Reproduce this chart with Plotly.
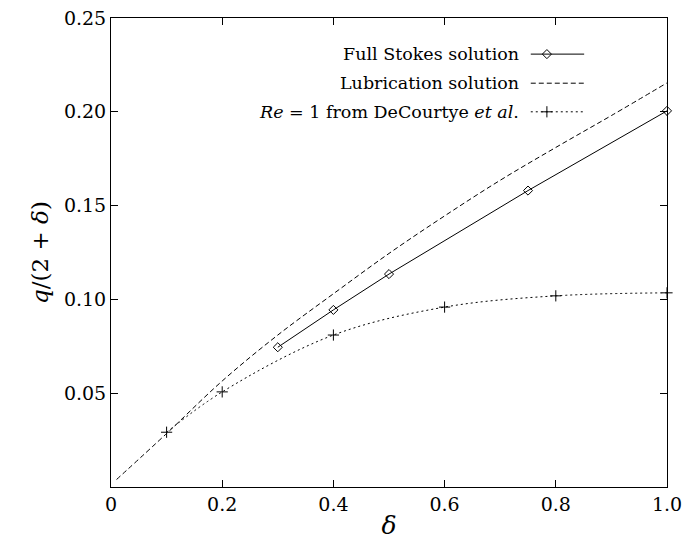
import plotly.graph_objects as go

# ---- data ----
stokes_x = [0.3, 0.4, 0.5, 0.75, 1.0]
stokes_y = [0.0745, 0.0944, 0.1135, 0.158, 0.2005]

lub_x = [0.01, 0.1, 0.2, 0.3, 0.4, 0.5, 0.6, 0.7, 0.8, 0.9, 1.0]
lub_y = [0.004, 0.0285, 0.0565, 0.081, 0.103, 0.1245, 0.1445, 0.1635, 0.181, 0.198, 0.2154]

dec_x = [0.1, 0.2, 0.4, 0.6, 0.8, 1.0]
dec_y = [0.0292, 0.0507, 0.081, 0.0959, 0.1019, 0.1035]

x_ticks = [0, 0.2, 0.4, 0.6, 0.8, 1.0]
x_ticktext = ["0", "0.2", "0.4", "0.6", "0.8", "1.0"]
y_ticks = [0.05, 0.10, 0.15, 0.20, 0.25]
y_ticktext = ["0.05", "0.10", "0.15", "0.20", "0.25"]

legend_labels = ["Full Stokes solution", "Lubrication solution",
                 "<i>Re</i> = 1 from DeCourtye <i>et al</i>."]

FONT = "DejaVu Serif"

fig = go.Figure()

fig.add_trace(go.Scatter(x=lub_x, y=lub_y, mode="lines",
                         line=dict(color="black", width=1, dash="5px,3px", shape="spline"),
                         showlegend=False, cliponaxis=False))
fig.add_trace(go.Scatter(x=dec_x, y=dec_y, mode="lines+markers",
                         line=dict(color="black", width=1, dash="2px,3px", shape="spline"),
                         marker=dict(symbol="cross-thin", size=8, line=dict(color="black", width=1)),
                         showlegend=False, cliponaxis=False))
fig.add_trace(go.Scatter(x=stokes_x, y=stokes_y, mode="lines+markers",
                         line=dict(color="black", width=1),
                         marker=dict(symbol="diamond-open", size=7, color="black", line=dict(width=1)),
                         showlegend=False, cliponaxis=False))

# ---- legend (gnuplot style: text right-aligned, sample on the right) ----
leg_y = [0.923, 0.861, 0.800]
x0, x1, xm = 0.755, 0.851, 0.784
styles = [
    dict(line=dict(color="black", width=1), marker=dict(symbol="diamond-open", size=7, color="black")),
    dict(line=dict(color="black", width=1, dash="5px,3px"), marker=None),
    dict(line=dict(color="black", width=1, dash="2px,3px"), marker=dict(symbol="cross-thin", size=8, line=dict(color="black", width=1))),
]
for lbl, yy, st in zip(legend_labels, leg_y, styles):
    fig.add_annotation(x=0.737, y=yy, xref="paper", yref="paper", text=lbl,
                       showarrow=False, xanchor="right", yanchor="middle",
                       font=dict(family=FONT, size=17.5, color="black"))
    fig.add_trace(go.Scatter(x=[x0, x1], y=[yy, yy], mode="lines", line=st["line"],
                             xaxis="x2", yaxis="y2", showlegend=False, hoverinfo="skip"))
    if st["marker"] is not None:
        fig.add_trace(go.Scatter(x=[xm], y=[yy], mode="markers", marker=st["marker"],
                                 xaxis="x2", yaxis="y2", showlegend=False, hoverinfo="skip"))

axis_common = dict(showline=True, linecolor="black", linewidth=1, mirror="ticks",
                   ticks="inside", ticklen=7, tickcolor="black", showgrid=False,
                   zeroline=False, automargin=False, ticklabeloverflow="allow",
                   tickfont=dict(family=FONT, size=19, color="black"))

fig.update_layout(
    width=685, height=545,
    margin=dict(l=111, r=18, t=18, b=58, autoexpand=False),
    paper_bgcolor="white", plot_bgcolor="white",
    font=dict(family=FONT, color="black"),
    xaxis=dict(range=[0, 1], tickvals=x_ticks, ticktext=x_ticktext,
               title=dict(text="<i>δ</i>", font=dict(family=FONT, size=25, color="black"), standoff=2),
               **axis_common),
    yaxis=dict(range=[0, 0.25], tickvals=y_ticks, ticktext=y_ticktext,
               title=dict(text="<i>q</i>/(2 + <i>δ</i>)", font=dict(family=FONT, size=23, color="black"), standoff=8),
               **axis_common),
    xaxis2=dict(range=[0, 1], overlaying="x", visible=False, fixedrange=True),
    yaxis2=dict(range=[0, 1], overlaying="y", visible=False, fixedrange=True),
    showlegend=False,
)

fig.write_html("out.html", config={"displayModeBar": False},
               post_script="document.body.style.margin='0';document.body.style.overflow='hidden';")
